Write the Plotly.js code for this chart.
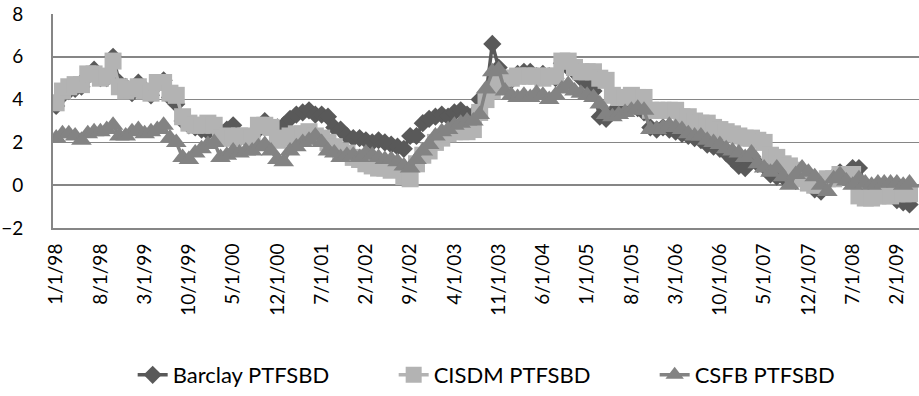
<!DOCTYPE html>
<html>
<head>
<meta charset="utf-8">
<script src="https://cdn.plot.ly/plotly-3.0.1.min.js"></script>
<style>html,body{margin:0;padding:0;background:#fff}#chart{width:919px;height:396px}</style>
</head>
<body>
<div id="chart"></div>
<script>
// Monthly dates 1/1/98 .. 4/1/09
var months = [];
for (var y = 1998; y <= 2009; y++) {
  for (var m = 1; m <= 12; m++) {
    if (y === 2009 && m > 4) break;
    months.push(m + "/1/" + String(y).slice(2));
  }
}
var tickLabels = ["1/1/98","8/1/98","3/1/99","10/1/99","5/1/00","12/1/00","7/1/01","2/1/02","9/1/02","4/1/03","11/1/03","6/1/04","1/1/05","8/1/05","3/1/06","10/1/06","5/1/07","12/1/07","7/1/08","2/1/09"];

var barclay = [3.7,4.2,4.4,4.5,4.6,5.1,5.4,5.0,5.0,6.0,4.8,4.6,
  4.3,4.8,4.4,4.2,4.7,4.9,4.1,3.8,3.0,2.8,2.7,2.6,
  2.5,2.6,2.5,2.6,2.8,2.2,2.2,2.3,2.6,3.0,2.7,2.7,
  2.8,3.1,3.3,3.4,3.5,3.3,3.3,3.2,2.7,2.6,2.3,2.2,
  2.2,2.1,2.0,2.1,2.0,1.9,1.8,1.7,2.3,2.3,2.9,3.1,
  3.2,3.3,3.2,3.4,3.5,3.3,3.3,4.0,4.2,6.6,5.5,5.0,
  4.9,5.2,5.3,5.3,5.1,5.2,5.1,5.0,5.7,5.5,5.3,5.0,
  4.8,4.4,3.2,3.1,3.4,3.5,3.6,3.7,3.6,3.4,2.7,2.6,
  2.7,2.6,2.5,2.4,2.3,2.2,2.1,1.9,1.8,1.7,1.5,1.2,
  0.9,0.8,1.2,1.0,0.9,0.5,0.4,0.4,0.3,0.2,0.6,0.3,
  -0.2,-0.3,0.2,0.4,0.6,0.5,0.8,0.8,0.0,-0.1,0.0,-0.1,
  -0.2,-0.7,-0.8,-0.9];

var cisdm = [3.85,4.4,4.6,4.7,4.7,5.2,5.2,5.0,5.1,5.8,4.6,4.4,
  4.5,4.6,4.4,4.3,4.8,4.8,4.3,4.2,3.2,2.9,2.8,2.8,
  2.9,2.8,2.2,2.3,2.2,2.3,2.3,2.2,2.8,2.8,2.7,2.1,
  2.2,2.3,2.4,2.4,2.5,2.3,2.2,2.0,1.8,1.6,1.5,1.3,
  1.2,1.0,0.9,0.8,0.8,0.7,0.8,0.4,0.3,1.0,1.4,1.6,
  2.0,2.2,2.4,2.5,2.5,2.5,2.6,3.4,4.0,4.4,4.8,5.0,
  5.0,5.1,5.1,5.1,5.1,5.0,5.1,5.1,5.8,5.8,5.5,5.3,
  5.3,5.3,5.0,4.9,4.2,4.1,4.1,4.2,4.1,4.1,3.5,3.5,
  3.5,3.5,3.5,3.2,3.2,3.0,2.9,2.9,2.7,2.6,2.5,2.4,
  2.3,2.2,2.2,2.1,2.0,1.4,1.3,1.0,0.9,0.7,0.3,0.1,
  0.0,0.0,0.3,0.3,0.5,0.5,0.5,-0.5,-0.6,-0.6,-0.5,-0.5,
  -0.5,-0.4,-0.4,-0.4];

var csfb = [2.2,2.4,2.4,2.3,2.1,2.4,2.5,2.5,2.6,2.8,2.3,2.3,
  2.5,2.6,2.4,2.5,2.6,2.8,2.2,2.0,1.3,1.2,1.5,1.7,
  1.9,2.0,1.3,1.4,1.6,1.5,1.6,1.6,1.8,1.9,1.6,1.2,
  1.1,1.6,1.8,2.0,2.1,2.3,2.0,1.6,1.5,1.3,1.4,1.4,
  1.3,1.5,1.4,1.3,1.2,1.2,1.1,0.9,0.8,1.2,1.6,1.9,
  2.3,2.5,2.6,2.8,2.9,3.0,3.0,3.3,4.5,5.3,5.4,4.4,
  4.2,4.1,4.2,4.1,4.3,4.2,4.0,4.2,4.5,4.7,4.4,4.3,
  4.2,4.1,3.8,3.3,3.2,3.3,3.4,3.5,3.6,3.5,2.6,2.6,
  2.7,2.8,2.7,2.6,2.4,2.3,2.3,2.1,2.0,1.9,1.7,1.6,
  1.5,1.3,1.5,1.0,0.8,0.6,0.8,0.4,0.0,0.5,0.8,0.6,
  0.4,0.0,-0.3,0.3,0.5,0.2,0.0,0.3,0.1,0.0,0.1,0.1,
  0.1,0.1,0.0,0.1];

var seriesNames = ["Barclay PTFSBD","CISDM PTFSBD","CSFB PTFSBD"];
var colors = ["#595959","#b3b3b3","#838383"];

var font = "Lato, 'Open Sans', sans-serif";
var traces = [
  {x: months, y: barclay, name: seriesNames[0], type: "scatter", mode: "lines+markers",
   line: {color: colors[0], width: 3.5}, marker: {symbol: "diamond", size: 14, color: colors[0]}},
  {x: months, y: cisdm, name: seriesNames[1], type: "scatter", mode: "lines+markers",
   line: {color: colors[1], width: 3.5}, marker: {symbol: "square", size: 17, color: colors[1]}},
  {x: months, y: csfb, name: seriesNames[2], type: "scatter", mode: "lines+markers",
   line: {color: colors[2], width: 3.5}, marker: {symbol: "triangle-up", size: 18, color: colors[2]}}
];

var layout = {
  width: 919, height: 396,
  margin: {l: 53, r: 0, t: 14, b: 164},
  paper_bgcolor: "#ffffff", plot_bgcolor: "#ffffff",
  font: {family: font, size: 19, color: "#000"},
  showlegend: true,
  legend: {orientation: "h", x: 0.092, xanchor: "left", y: -0.688, yanchor: "middle",
           font: {family: font, size: 22, color: "#000"}, entrywidth: 216, itemwidth: 30},
  xaxis: {
    type: "category", categoryorder: "array", categoryarray: months,
    range: [-0.5, months.length + 0.5],
    tickmode: "array", tickvals: tickLabels, ticktext: tickLabels,
    tickangle: -90, ticks: "", showgrid: false, zeroline: false,
    showline: true, linecolor: "#868686", linewidth: 2,
    tickfont: {family: font, size: 19, color: "#000"}, ticklabelstandoff: 6
  },
  yaxis: {
    range: [-2, 8], dtick: 2, tick0: -2, showgrid: true, gridcolor: "#868686", gridwidth: 1.5,
    zeroline: false, showline: true, linecolor: "#868686", linewidth: 2, ticks: "",
    tickfont: {family: font, size: 19, color: "#000"}, ticklabelstandoff: 24
  }
};

Plotly.newPlot("chart", traces, layout, {displayModeBar: false, staticPlot: true});
</script>
</body>
</html>
